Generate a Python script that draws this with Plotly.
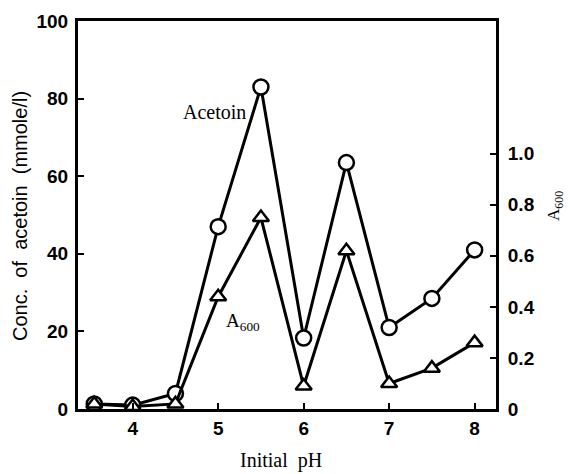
import plotly.graph_objects as go

ph = [3.55, 4.0, 4.5, 5.0, 5.5, 6.0, 6.5, 7.0, 7.5, 8.0]
acetoin = [1.3, 1.0, 4.0, 47, 83, 18.3, 63.5, 21, 28.5, 41]
a600 = [0.02, 0.01, 0.02, 0.44, 0.75, 0.09, 0.62, 0.10, 0.16, 0.26]

x_ticks = [4, 5, 6, 7, 8]
y_ticks = [0, 20, 40, 60, 80, 100]
y2_ticks = [0, 0.2, 0.4, 0.6, 0.8, 1.0]
y2_labels = ["0", "0.2", "0.4", "0.6", "0.8", "1.0"]

tickfont = dict(family="Liberation Sans", size=19, color="black", weight="bold")
serif = "Liberation Serif"
sans = "Liberation Sans"

# page body has an 8px default margin; size the figure to fit the window
OFF = 8
W, H = 573 - OFF, 474 - OFF
l, r, t, b = 70, 77, 13, 65
pw, ph_ = W - l - r, H - t - b


def px(x):
    return (x - OFF - l) / pw


def py(y):
    return 1 - (y - OFF - t) / ph_


fig = go.Figure()
fig.add_trace(go.Scatter(
    x=ph, y=acetoin, mode="lines+markers", name="Acetoin",
    line=dict(color="black", width=3),
    marker=dict(symbol="circle", size=15, color="white",
                line=dict(color="black", width=2.5)),
    yaxis="y"))
fig.add_trace(go.Scatter(
    x=ph, y=a600, mode="lines+markers", name="A600",
    line=dict(color="black", width=3),
    marker=dict(symbol="triangle-up", size=14, color="white",
                line=dict(color="black", width=2.5)),
    yaxis="y2"))

ann = dict(xref="paper", yref="paper", showarrow=False,
           xanchor="center", yanchor="middle")

fig.update_layout(
    width=W, height=H,
    margin=dict(l=l, r=r, t=t, b=b, autoexpand=False),
    plot_bgcolor="white", paper_bgcolor="white",
    showlegend=False,
    xaxis=dict(range=[3.36, 8.25], tickvals=x_ticks, ticks="inside",
               ticklen=6, tickwidth=2, tickcolor="black",
               showline=True, linecolor="black", linewidth=3, mirror=True,
               showgrid=False, zeroline=False, tickfont=tickfont,
               ticklabelstandoff=0),
    yaxis=dict(range=[0, 100], tickvals=y_ticks, ticks="inside",
               ticklen=6, tickwidth=2, tickcolor="black",
               showline=True, linecolor="black", linewidth=3,
               showgrid=False, zeroline=False, tickfont=tickfont,
               ticklabelstandoff=3),
    yaxis2=dict(range=[0, 1.52], tickvals=y2_ticks, ticktext=y2_labels,
                overlaying="y", side="right", ticks="inside",
                ticklen=6, tickwidth=2, tickcolor="black",
                showline=True, linecolor="black", linewidth=3,
                showgrid=False, zeroline=False, tickfont=tickfont,
                ticklabelstandoff=5),
    annotations=[
        dict(ann, text="Conc.  of  acetoin  (mmole/l)", x=px(20), y=py(216),
             textangle=-90, font=dict(family=sans, size=20, color="black")),
        dict(ann, text="Initial  pH", x=px(281), y=py(460),
             font=dict(family=serif, size=20, color="black")),
        dict(ann, text="A<sub>600</sub>", x=px(555), y=py(206),
             textangle=-90, font=dict(family=serif, size=17, color="black")),
        dict(ann, text="Acetoin", x=px(214), y=py(112),
             font=dict(family=serif, size=20, color="black")),
        dict(ann, text="A<sub>600</sub>", x=px(243), y=py(322),
             font=dict(family=serif, size=19, color="black")),
    ],
)

fig.write_html("out.html")
